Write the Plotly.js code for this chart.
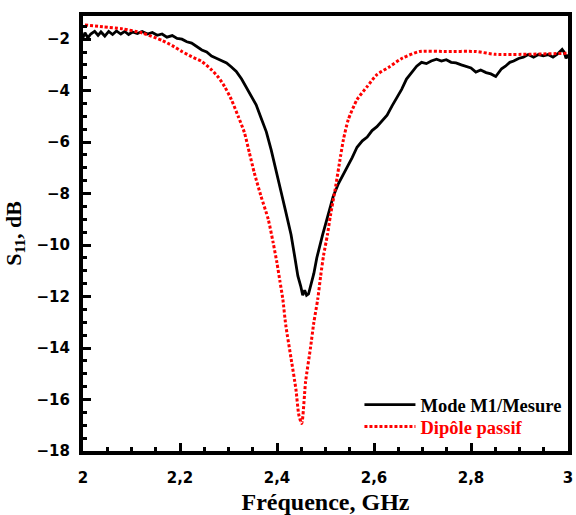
<!DOCTYPE html>
<html>
<head>
<meta charset="utf-8">
<script src="https://cdn.plot.ly/plotly-3.0.1.min.js"></script>
<style>html,body{margin:0;padding:0;background:#fff;}#chart{width:576px;height:515px;}</style>
</head>
<body>
<div id="chart"></div>
<script>
// Mode M1 / Mesure (measured)
var freqMes = [2.000,2.004,2.010,2.016,2.024,2.031,2.037,2.045,2.053,2.061,2.069,2.078,2.086,2.094,2.102,2.112,2.122,2.133,2.143,2.153,2.163,2.173,2.184,2.194,2.204,2.214,2.224,2.235,2.245,2.255,2.265,2.276,2.286,2.296,2.306,2.316,2.327,2.337,2.347,2.357,2.367,2.378,2.388,2.398,2.408,2.418,2.429,2.437,2.443,2.449,2.453,2.457,2.461,2.465,2.469,2.476,2.482,2.488,2.494,2.500,2.506,2.516,2.527,2.537,2.545,2.555,2.565,2.576,2.586,2.596,2.606,2.616,2.627,2.637,2.647,2.657,2.667,2.678,2.688,2.698,2.708,2.718,2.729,2.739,2.749,2.759,2.769,2.780,2.790,2.800,2.810,2.820,2.831,2.841,2.851,2.857,2.863,2.871,2.880,2.888,2.898,2.908,2.918,2.929,2.939,2.949,2.959,2.969,2.980,2.988,2.992,2.996,3.000];
var s11Mes = [-1.95,-1.75,-1.95,-1.80,-1.70,-1.85,-1.72,-1.88,-1.70,-1.82,-1.68,-1.80,-1.70,-1.82,-1.72,-1.78,-1.70,-1.80,-1.74,-1.85,-1.80,-1.92,-1.86,-1.97,-2.00,-2.10,-2.15,-2.30,-2.42,-2.50,-2.66,-2.75,-2.85,-2.92,-3.08,-3.25,-3.55,-3.90,-4.20,-4.55,-5.05,-5.60,-6.30,-7.05,-7.90,-8.70,-9.60,-10.50,-11.20,-11.60,-11.95,-11.75,-11.95,-11.90,-11.60,-11.10,-10.50,-10.00,-9.60,-9.20,-8.80,-8.10,-7.60,-7.25,-7.00,-6.60,-6.20,-5.95,-5.80,-5.55,-5.40,-5.20,-4.95,-4.60,-4.30,-3.95,-3.55,-3.30,-3.05,-2.90,-2.95,-2.85,-2.78,-2.85,-2.80,-2.90,-2.92,-3.00,-3.05,-3.12,-3.28,-3.20,-3.30,-3.35,-3.45,-3.30,-3.15,-3.05,-2.90,-2.85,-2.75,-2.70,-2.60,-2.70,-2.60,-2.65,-2.60,-2.70,-2.55,-2.40,-2.50,-2.75,-2.60];

// Dipôle passif (simulated)
var freqDip = [2.004,2.041,2.082,2.122,2.163,2.184,2.204,2.224,2.245,2.265,2.280,2.292,2.306,2.320,2.333,2.343,2.353,2.367,2.382,2.392,2.400,2.406,2.412,2.418,2.429,2.439,2.445,2.451,2.459,2.469,2.476,2.484,2.490,2.496,2.504,2.510,2.520,2.531,2.537,2.547,2.565,2.586,2.606,2.633,2.659,2.694,2.749,2.810,2.851,3.000];
var s11Dip = [-1.45,-1.52,-1.60,-1.76,-2.05,-2.25,-2.48,-2.68,-2.87,-3.19,-3.50,-3.84,-4.35,-5.00,-5.64,-6.41,-7.18,-8.10,-9.00,-9.90,-10.70,-11.40,-12.10,-13.10,-14.40,-15.60,-16.60,-16.93,-15.30,-14.00,-13.00,-12.10,-11.20,-10.40,-9.60,-8.87,-7.83,-6.55,-5.90,-5.12,-4.35,-3.84,-3.38,-3.06,-2.73,-2.48,-2.48,-2.48,-2.59,-2.55];

var nameMes = 'Mode M1/Mesure';
var nameDip = 'Dipôle passif';
var xTickVals = [2, 2.2, 2.4, 2.6, 2.8, 3];
var yTickVals = [-18, -16, -14, -12, -10, -8, -6, -4, -2];

var traces = [
  {x: freqMes, y: s11Mes, type: 'scatter', mode: 'lines', name: nameMes, legend: 'legend',
   line: {color: '#000000', width: 2.8}},
  {x: freqDip, y: s11Dip, type: 'scatter', mode: 'lines', name: '<span style="color:#ff0000">' + nameDip + '</span>',
   legend: 'legend2',
   line: {color: '#ff0000', width: 3, dash: '3px,2px', shape: 'spline', smoothing: 0.6}}
];

var tickFont = {family: 'DejaVu Sans, Arial, sans-serif', size: 15, color: '#000', weight: 'bold'};
var serifBold = 'Liberation Serif, Times New Roman, serif';
var legendFont = {family: serifBold, size: 18.5, color: '#000', weight: 'bold'};

function legendAt(yPos) {
  return {x: 0.570, y: yPos, xanchor: 'left', yanchor: 'middle', bgcolor: 'rgba(0,0,0,0)',
          borderwidth: 0, font: legendFont, itemwidth: 51};
}

var layout = {
  width: 576, height: 515,
  margin: {l: 83, r: 8, t: 16, b: 64},
  paper_bgcolor: '#fff', plot_bgcolor: '#fff',
  separators: ', ',
  showlegend: true,
  legend: legendAt(0.1057),
  legend2: legendAt(0.0552),
  xaxis: {range: [2, 3], tickvals: xTickVals, ticks: 'inside', ticklen: 8, tickwidth: 3, tickcolor: '#000',
          showline: true, linewidth: 4, linecolor: '#000', mirror: true, showgrid: false, zeroline: false,
          tickfont: tickFont, ticklabelstandoff: 10,
          minor: {dtick: 0.05, ticks: 'inside', ticklen: 4, tickwidth: 3, tickcolor: '#000'},
          title: {text: 'Fréquence, GHz', font: {family: serifBold, size: 24, color: '#000', weight: 'bold'}, standoff: 11}},
  yaxis: {range: [-18, -1.1], tickvals: yTickVals, ticks: 'inside', ticklen: 8, tickwidth: 3, tickcolor: '#000',
          showline: true, linewidth: 4, linecolor: '#000', mirror: true, showgrid: false, zeroline: false,
          tickfont: tickFont, ticklabelstandoff: 6,
          minor: {dtick: 0.5, ticks: 'inside', ticklen: 4, tickwidth: 3, tickcolor: '#000'},
          title: {text: 'S<sub>11</sub>, dB', font: {family: serifBold, size: 22, color: '#000', weight: 'bold'}, standoff: 10}}
};

Plotly.newPlot('chart', traces, layout, {displayModeBar: false, staticPlot: true});
</script>
</body>
</html>
